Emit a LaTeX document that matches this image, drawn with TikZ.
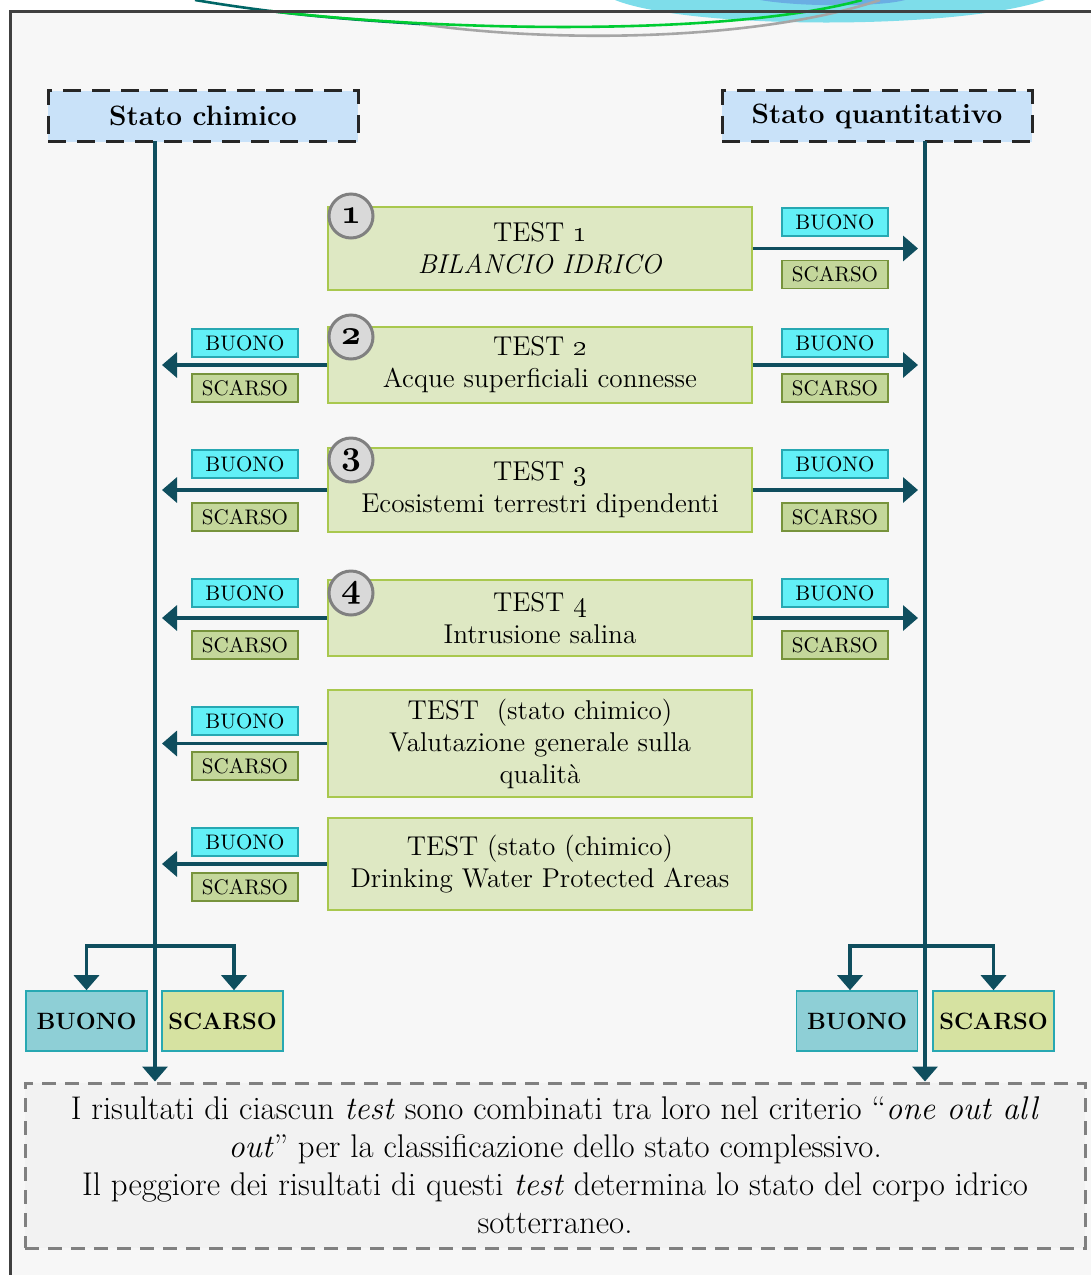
\documentclass[tikz,border=0pt]{standalone}
\usepackage{tikz}
\usetikzlibrary{arrows.meta}
\usetikzlibrary{calc}

\definecolor{flowc}{HTML}{0F4E5E}
\definecolor{hdrfill}{HTML}{C9E2F9}
\definecolor{testfill}{HTML}{DEE8C3}
\definecolor{testline}{HTML}{A9C84E}
\definecolor{numfill}{HTML}{D9D9D9}
\definecolor{numline}{HTML}{808080}
\definecolor{buonofill}{HTML}{62F0F7}
\definecolor{buonoline}{HTML}{27A8B2}
\definecolor{scarsofill}{HTML}{C4D79B}
\definecolor{scarsoline}{HTML}{77933C}
\definecolor{bigbuonofill}{HTML}{8ECFD6}
\definecolor{bigscarsofill}{HTML}{D6E2A1}
\definecolor{notefill}{HTML}{F2F2F2}
\definecolor{bgfill}{HTML}{F7F7F7}
\definecolor{blobc}{HTML}{7EDDEA}

\newcommand{\numtxt}[1]{{\usefont{OML}{cmm}{b}{it}#1}}

\tikzset{
  hdr/.style={draw=black!85, line width=1.5pt, dash pattern=on 9pt off 5.5pt,
    fill=hdrfill, minimum width=155pt, minimum height=25.5pt, inner sep=0pt,
    font=\fontsize{14}{16}\selectfont\bfseries},
  testbox/.style={draw=testline, line width=0.8pt, fill=testfill,
    minimum width=212pt, inner sep=0pt, align=center,
    font=\fontsize{13.6}{16}\selectfont},
  numc/.style={circle, draw=numline, line width=1.5pt, fill=numfill,
    minimum size=22pt, inner sep=0pt, font=\fontsize{17}{17}\selectfont},
  buono/.style={draw=buonoline, line width=0.8pt, fill=buonofill,
    minimum width=53pt, minimum height=14pt, inner sep=0pt,
    font=\fontsize{10.5}{12}\selectfont},
  scarso/.style={buono, draw=scarsoline, fill=scarsofill},
  bigbuono/.style={draw=buonoline, line width=0.8pt, fill=bigbuonofill,
    minimum width=60.5pt, minimum height=30pt, inner sep=0pt,
    font=\fontsize{11.8}{14}\selectfont\bfseries},
  bigscarso/.style={bigbuono, fill=bigscarsofill},
  note/.style={draw=numline, line width=1.5pt, dash pattern=on 7pt off 4.5pt,
    fill=notefill, minimum width=530pt, minimum height=82.5pt, inner sep=0pt,
    align=center, font=\fontsize{16.4}{19}\selectfont},
  flow/.style={draw=flowc, line width=1.7pt, -{Triangle[length=7.5pt,width=12.5pt]}}
}

\begin{document}
\begin{tikzpicture}[x=0.5pt,y=-0.5pt]
        \useasboundingbox (0,0) rectangle (1091,1275);
        % slide background and frame
        \fill[white] (0,0) rectangle (1091,1275);
        \fill[bgfill] (10,11) rectangle (1091,1275);
        \fill[blobc] (615,0) .. controls (690,30) and (960,30) .. (1045,0) -- cycle;
        \fill[cyan!70!blue!60] (760,0) .. controls (800,7) and (880,7) .. (905,0) -- cycle;
        \draw[gray!70, line width=1.3pt] (420,24) .. controls (560,44) and (760,40) .. (880,0);
        \draw[teal!80!black, line width=1.3pt] (195,0) .. controls (290,16) and (360,20) .. (420,24);
        \draw[green!60!teal, line width=1.3pt] (270,11) .. controls (450,32) and (730,36) .. (862,0);
        \draw[black!75, line width=1.5pt] (10,1275) -- (10,11) -- (1091,11);

        % headers
        \node[hdr] (chim) at (203,116) {Stato chimico};
        \node[hdr] (quant) at (877,116) {Stato quantitativo};
        \coordinate (chimTop) at (155,141);
        \coordinate (quantTop) at (925,141);

        % test boxes
        \node[testbox, minimum height=41.5pt] (t1) at (540,248.5) {TEST \oldstylenums{1}\\ \textit{BILANCIO IDRICO}};
        \node[testbox, minimum height=38pt] (t2) at (540,365) {TEST \oldstylenums{2}\\ Acque superficiali connesse};
        \node[testbox, minimum height=42pt] (t3) at (540,490) {TEST \oldstylenums{3}\\ Ecosistemi terrestri dipendenti};
        \node[testbox, minimum height=38pt] (t4) at (540,618) {TEST \oldstylenums{4}\\ Intrusione salina};
        \node[testbox, minimum height=53.5pt] (t5) at (540,743.5) {TEST\ \ (stato chimico)\\ Valutazione generale sulla\\ qualità};
        \node[testbox, minimum height=46pt] (t6) at (540,864) {TEST (stato (chimico)\\ Drinking Water Protected Areas};

        \node[numc] (n1) at (351,216) {\numtxt{1}};
        \node[numc] (n2) at (351,337) {\numtxt{2}};
        \node[numc] (n3) at (351,460) {\numtxt{3}};
        \node[numc] (n4) at (351,593) {\numtxt{4}};

        % outcome labels, right side
        \node[buono] (rB1) at (835,222) {BUONO};
        \node[scarso] (rS1) at (835,274.5) {SCARSO};
        \node[buono] (rB2) at (835,343) {BUONO};
        \node[scarso] (rS2) at (835,388) {SCARSO};
        \node[buono] (rB3) at (835,464) {BUONO};
        \node[scarso] (rS3) at (835,517) {SCARSO};
        \node[buono] (rB4) at (835,593) {BUONO};
        \node[scarso] (rS4) at (835,645) {SCARSO};

        % outcome labels, left side
        \node[buono] (lB2) at (245,343) {BUONO};
        \node[scarso] (lS2) at (245,388) {SCARSO};
        \node[buono] (lB3) at (245,464) {BUONO};
        \node[scarso] (lS3) at (245,517) {SCARSO};
        \node[buono] (lB4) at (245,593) {BUONO};
        \node[scarso] (lS4) at (245,645) {SCARSO};
        \node[buono] (lB5) at (245,721) {BUONO};
        \node[scarso] (lS5) at (245,766) {SCARSO};
        \node[buono] (lB6) at (245,842) {BUONO};
        \node[scarso] (lS6) at (245,887) {SCARSO};

        % final classes and note
        \node[bigbuono] (fBL) at (86.5,1021) {BUONO};
        \node[bigscarso] (fSL) at (222.5,1021) {SCARSO};
        \node[bigbuono] (fBR) at (857,1021) {BUONO};
        \node[bigscarso] (fSR) at (993.5,1021) {SCARSO};
        \node[note] (note) at (555,1165.5) {I risultati di ciascun \textit{test} sono combinati tra loro nel criterio “\textit{one out all}\\
          \textit{out}” per la classificazione dello stato complessivo.\\
          Il peggiore dei risultati di questi \textit{test} determina lo stato del corpo idrico\\
          sotterraneo.};

        % flows
        \draw[flow] (chimTop) -- (chimTop |- note.north);
        \draw[flow] (quantTop) -- (quantTop |- note.north);
        \draw[flow, shorten >=3.5pt] (t1.east) -- (t1.east -| quantTop);
        \draw[flow, shorten >=3.5pt] (t2.east) -- (t2.east -| quantTop);
        \draw[flow, shorten >=3.5pt] (t3.east) -- (t3.east -| quantTop);
        \draw[flow, shorten >=3.5pt] (t4.east) -- (t4.east -| quantTop);
        \draw[flow, shorten >=3.5pt] (t2.west) -- (t2.west -| chimTop);
        \draw[flow, shorten >=3.5pt] (t3.west) -- (t3.west -| chimTop);
        \draw[flow, shorten >=3.5pt] (t4.west) -- (t4.west -| chimTop);
        \draw[flow, shorten >=3.5pt] (t5.west) -- (t5.west -| chimTop);
        \draw[flow, shorten >=3.5pt] (t6.west) -- (t6.west -| chimTop);

        \coordinate (splitL) at (155,946);
        \coordinate (splitR) at (925,946);
        \draw[flow] (splitL) -| (fBL.north);
        \draw[flow] (splitL) -| ([xshift=5.75pt]fSL.north);
        \draw[flow] (splitR) -| ([xshift=-3.5pt]fBR.north);
        \draw[flow] (splitR) -| (fSR.north);
    \end{tikzpicture}
\end{document}
